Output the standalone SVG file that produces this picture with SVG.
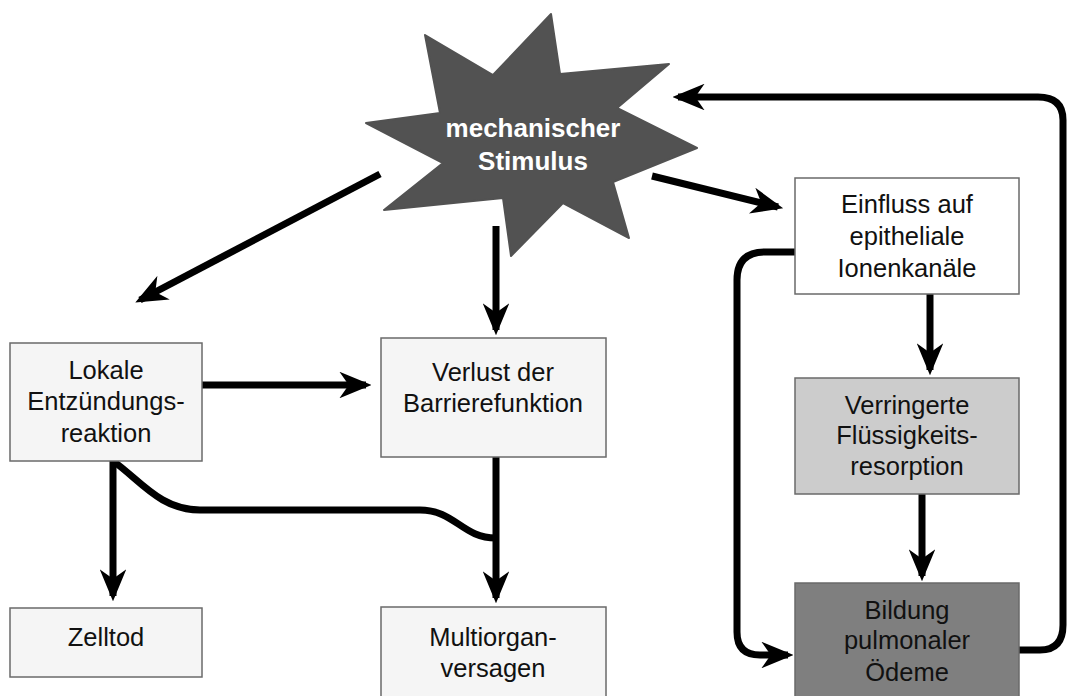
<svg xmlns="http://www.w3.org/2000/svg" width="1072" height="696" viewBox="0 0 1072 696">
<defs>
<marker id="ah" viewBox="0 0 12 10" refX="10" refY="5" markerWidth="4.6" markerHeight="3.8" orient="auto" markerUnits="strokeWidth">
<path d="M0,0 L12,5 L0,10 L3.5,5 z" fill="#000"/>
</marker>
<style>
.box{stroke:#6a6a6a;stroke-width:1.5}
.t{font-family:"Liberation Sans",Arial,sans-serif;font-size:25.5px;fill:#111;text-anchor:middle}
.st{font-family:"Liberation Sans",Arial,sans-serif;font-size:26px;font-weight:bold;fill:#fff;text-anchor:middle}
.c{fill:none;stroke:#000;stroke-width:7}
.a{marker-end:url(#ah)}
</style>
</defs>
<rect width="1072" height="696" fill="#fff"/>
<g id="connectors">
<path class="c a" d="M380,174 L140,300"/>
<path class="c a" d="M496,226 L496,330"/>
<path class="c a" d="M652,176 L778,207"/>
<path class="c a" d="M202,385 L366,385"/>
<path class="c a" d="M930,294 L930,370"/>
<path class="c a" d="M922,494 L922,576"/>
<path class="c a" d="M496,457 L496,598"/>
<path class="c a" d="M113,461 L113,596"/>
<path class="c" d="M113,461 C140,480 160,510 200,510 L420,510 C455,510 462,538 496,538"/>
<path class="c a" d="M795,252 L765,252 Q737,252 737,280 L737,632 Q737,655 760,655 L788,655"/>
<path class="c a" d="M1019,650 L1040,650 Q1063,650 1063,625 L1063,120 Q1063,97 1038,97 L678,97"/>
</g>
<g id="stimulus">
<polygon points="551,14 560,74 669,64 617,108 697,148 613,182 629,238 563,203 511,256 503,198 384,210 443,163 366,123 440,113 425,35 493,75" fill="#525252" stroke="#525252" stroke-width="2" stroke-linejoin="round"/>
<text class="st" x="533" y="137">mechanischer</text>
<text class="st" x="533" y="170">Stimulus</text>
</g>
<g id="lokale">
<rect class="box" x="10" y="343" width="192" height="118" fill="#f5f5f5"/>
<text class="t" x="106" y="379">Lokale</text>
<text class="t" x="106" y="410">Entzündungs-</text>
<text class="t" x="106" y="442">reaktion</text>
</g>
<g id="verlust">
<rect class="box" x="381" y="338" width="225" height="119" fill="#f5f5f5"/>
<text class="t" x="493" y="381">Verlust der</text>
<text class="t" x="493" y="412">Barrierefunktion</text>
</g>
<g id="zelltod">
<rect class="box" x="10" y="608" width="192" height="69" fill="#f5f5f5"/>
<text class="t" x="106" y="646">Zelltod</text>
</g>
<g id="multiorgan">
<rect class="box" x="381" y="607" width="225" height="95" fill="#f5f5f5"/>
<text class="t" x="493" y="646">Multiorgan-</text>
<text class="t" x="493" y="677">versagen</text>
</g>
<g id="einfluss">
<rect class="box" x="795" y="178" width="224" height="116" fill="#fff"/>
<text class="t" x="907" y="213">Einfluss auf</text>
<text class="t" x="907" y="245">epitheliale</text>
<text class="t" x="907" y="277">Ionenkanäle</text>
</g>
<g id="verringerte">
<rect class="box" x="795" y="378" width="224" height="116" fill="#cccccc"/>
<text class="t" x="907" y="414">Verringerte</text>
<text class="t" x="907" y="444">Flüssigkeits-</text>
<text class="t" x="907" y="475">resorption</text>
</g>
<g id="bildung">
<rect class="box" x="795" y="583" width="224" height="120" fill="#7f7f7f"/>
<text class="t" x="907" y="619">Bildung</text>
<text class="t" x="907" y="649">pulmonaler</text>
<text class="t" x="907" y="681">Ödeme</text>
</g>
</svg>
